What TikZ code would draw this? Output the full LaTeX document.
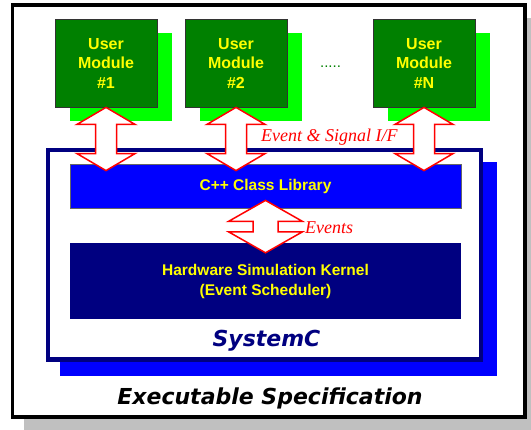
\documentclass[tikz,border=0pt]{standalone}
\usepackage{fontspec}
\setmainfont{Liberation Serif}
\setsansfont{Liberation Sans}
\newfontfamily\headfont{DejaVu Sans}
\usetikzlibrary{calc,shadows}

\definecolor{modgreen}{RGB}{0,128,0}
\definecolor{litegreen}{RGB}{0,255,0}
\definecolor{navyc}{RGB}{0,0,128}
\definecolor{bluec}{RGB}{0,0,255}
\definecolor{yel}{RGB}{255,255,0}
\definecolor{shadowgray}{RGB}{192,192,192}
\definecolor{ifred}{RGB}{255,0,0}

% double-headed interface arrow: top tip, bottom tip, head length,
% head half-width, shaft half-width
\newcommand\bidir[5]{%
  \draw[iface] (#1) -- ($(#1)+(#4,#3)$) -- ($(#1)+(#5,#3)$)
    -- ($(#2)+(#5,-#3)$) -- ($(#2)+(#4,-#3)$) -- (#2)
    -- ($(#2)+(-#4,-#3)$) -- ($(#2)+(-#5,-#3)$)
    -- ($(#1)+(-#5,#3)$) -- ($(#1)+(-#4,#3)$) -- cycle;}

\begin{document}
\begin{tikzpicture}[x=1pt,y=-1pt,
  specframe/.style={draw=black, fill=white, line width=3.5pt,
    minimum width=512.5pt, minimum height=412pt, inner sep=0pt,
    general shadow={fill=shadowgray, shadow xshift=11.5pt, shadow yshift=-13pt}},
  sysframe/.style={draw=navyc, fill=white, line width=4.5pt,
    minimum width=433pt, minimum height=209.5pt, inner sep=0pt,
    general shadow={fill=bluec, draw=bluec, line width=4.5pt,
      shadow xshift=14pt, shadow yshift=-14pt}},
  usermod/.style={draw=black!80, line width=0.8pt, fill=modgreen,
    minimum width=102pt, minimum height=88pt, inner sep=0pt, align=center,
    text=yel, font=\sffamily\bfseries\fontsize{16}{19.5}\selectfont,
    general shadow={fill=litegreen, shadow xshift=14.5pt, shadow yshift=-14pt}},
  libbox/.style={draw=black!60, line width=0.8pt, fill=bluec,
    minimum width=391pt, minimum height=44pt, inner sep=0pt,
    text=yel, font=\sffamily\bfseries\fontsize{15.5}{19}\selectfont},
  kernbox/.style={fill=navyc, minimum width=391pt, minimum height=76pt,
    inner sep=0pt, align=center, text=yel,
    font=\sffamily\bfseries\fontsize{15.5}{20}\selectfont},
  iface/.style={draw=ifred, fill=white, line width=1.5pt, line join=miter},
  iflabel/.style={text=ifred, font=\itshape\fontsize{18}{20}\selectfont,
    inner sep=0pt},
  bigtitle/.style={inner sep=0pt, font=\headfont\bfseries\itshape\fontsize{22}{24}\selectfont}]

\useasboundingbox (0,0) rectangle (531,430);

% outer frame of the executable specification
\node[specframe] (spec) at (268.75,211) {};

% SystemC container
\node[sysframe] (sysc) at (264.5,254.75) {};

% user modules
\node[usermod] (m1) at (106,63) {User\\Module\\\#1};
\node[usermod] (m2) at (236,63) {User\\Module\\\#2};
\node[usermod] (mn) at (424,63) {User\\Module\\\#N};
\node[anchor=base, inner sep=0pt, text=modgreen,
  font=\sffamily\fontsize{15}{18}\selectfont] (dots) at (330.5,68) {.....};

% library layers
\node[libbox] (lib) at (265.5,186) {C++ Class Library};
\node[kernbox] (kern) at (265.5,281) {Hardware Simulation Kernel\\(Event Scheduler)};

% titles
\node[bigtitle, text=navyc, anchor=base] (systitle) at (266.5,347) {SystemC};
\node[bigtitle, text=black, anchor=base] (spectitle) at (270,405) {Executable Specification};

% interface arrows between modules and library
\coordinate (t1) at (m1.south);
\coordinate (t2) at (m2.south);
\coordinate (tn) at (mn.south);
\coordinate (b1) at ($(m1.south |- lib.north)+(0,7)$);
\coordinate (b2) at ($(m2.south |- lib.north)+(0,7)$);
\coordinate (bn) at ($(mn.south |- lib.north)+(0,7)$);
\bidir{t1}{b1}{17}{29}{10.5}
\bidir{t2}{b2}{17}{29}{10.5}
\bidir{tn}{bn}{17}{29}{10.5}

% event path between library and kernel
\coordinate (te) at ($(lib.south)+(0,-8)$);
\coordinate (be) at ($(kern.north)+(0,10)$);
\bidir{te}{be}{21}{37}{12.5}

% arrow labels
\node[iflabel, anchor=base west] (iflab) at (261,142) {Event \& Signal I/F};
\node[iflabel, anchor=base west] (evlab) at (305,234) {Events};

\end{tikzpicture}
\end{document}
